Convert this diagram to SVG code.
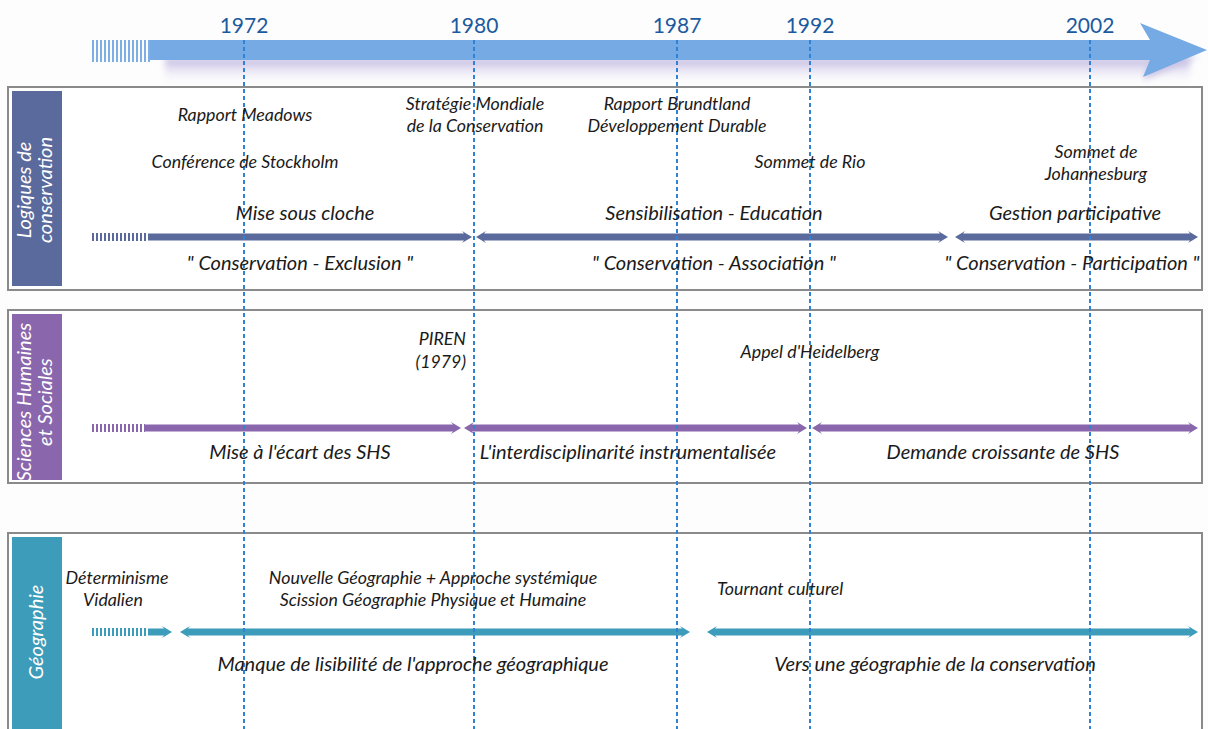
<svg xmlns="http://www.w3.org/2000/svg" width="1208" height="729" viewBox="0 0 1208 729">
<defs>
<style>
.yr{font-family:Lato,"Open Sans","Liberation Sans",sans-serif;font-size:21px;fill:#1b5a9f;text-anchor:middle}
.t{font-family:Lato,"Open Sans","Liberation Sans",sans-serif;font-style:italic;font-size:17.8px;fill:#1a1a1a;text-anchor:middle}
.big{font-size:20px}
.lbl{font-family:Lato,"Open Sans","Liberation Sans",sans-serif;font-style:italic;font-size:20px;fill:#ffffff;text-anchor:middle}
.panel{fill:#ffffff;stroke:#8a8a8a;stroke-width:2}
.dash{stroke:#2f82d4;stroke-width:2;stroke-dasharray:4 3;fill:none}
</style>
<pattern id="stripesBlue" width="4" height="10" patternUnits="userSpaceOnUse"><rect width="2" height="10" fill="#7eaee6"/></pattern>
<pattern id="stripesSlate" width="4" height="10" patternUnits="userSpaceOnUse"><rect width="2" height="10" fill="#5b6a9c"/></pattern>
<pattern id="stripesPurple" width="4" height="10" patternUnits="userSpaceOnUse"><rect width="2" height="10" fill="#8a67ad"/></pattern>
<pattern id="stripesTeal" width="4" height="10" patternUnits="userSpaceOnUse"><rect width="2" height="10" fill="#3d9cb9"/></pattern>
<linearGradient id="shadow" x1="0" y1="0" x2="0" y2="1">
<stop offset="0" stop-color="#bcb3de"/>
<stop offset="1" stop-color="#ffffff" stop-opacity="0"/>
</linearGradient>
<filter id="blur" x="-5%" y="-50%" width="110%" height="200%"><feGaussianBlur stdDeviation="3"/></filter>
</defs>
<rect width="1208" height="729" fill="#fdfdfd"/>

<g id="timeline">
<rect x="165" y="58" width="1025" height="28" fill="url(#shadow)" filter="url(#blur)"/>
<polygon points="1150,60 1143,80 1200,56" fill="#c9c3e4" filter="url(#blur)"/>
<rect x="92" y="40" width="58" height="22" fill="url(#stripesBlue)"/>
<polygon points="150,40 1150,40 1140,23 1207,50 1143,77 1150,60 150,60" fill="#76aae4"/>
<text class="yr" x="244" y="33">1972</text>
<text class="yr" x="474" y="33">1980</text>
<text class="yr" x="677" y="33">1987</text>
<text class="yr" x="810" y="33">1992</text>
<text class="yr" x="1090" y="33">2002</text>
</g>

<g id="panel-conservation">
<rect class="panel" x="8" y="87" width="1194" height="203"/>
<rect x="12" y="91" width="50" height="195" fill="#5b6a9c"/>
<text class="lbl" transform="translate(0,190) rotate(-90)" x="0" y="31">Logiques de</text>
<text class="lbl" transform="translate(0,190) rotate(-90)" x="0" y="52">conservation</text>
<rect x="92" y="233" width="56" height="8" fill="url(#stripesSlate)"/>
<polygon points="148,233.5 464,233.5 462,231 472,237 462,243 464,240.5 148,240.5" fill="#5b6a9c"/>
<polygon points="476,237 486,231 484,233.5 940,233.5 938,231 948,237 938,243 940,240.5 484,240.5 486,243" fill="#5b6a9c"/>
<polygon points="955,237 965,231 963,233.5 1190,233.5 1188,231 1198,237 1188,243 1190,240.5 963,240.5 965,243" fill="#5b6a9c"/>
</g>

<g id="panel-shs">
<rect class="panel" x="8" y="310" width="1194" height="173"/>
<rect x="12" y="314" width="50" height="166" fill="#8a67ad"/>
<text class="lbl" transform="translate(0,402) rotate(-90)" x="0" y="31">Sciences Humaines</text>
<text class="lbl" transform="translate(0,402) rotate(-90)" x="0" y="52">et Sociales</text>
<rect x="92" y="424" width="53" height="8" fill="url(#stripesPurple)"/>
<polygon points="145,424.5 453,424.5 451,422 461,428 451,434 453,431.5 145,431.5" fill="#8a67ad"/>
<polygon points="464,428 474,422 472,424.5 799,424.5 797,422 807,428 797,434 799,431.5 472,431.5 474,434" fill="#8a67ad"/>
<polygon points="812,428 822,422 820,424.5 1190,424.5 1188,422 1198,428 1188,434 1190,431.5 820,431.5 822,434" fill="#8a67ad"/>
</g>

<g id="panel-geo">
<rect class="panel" x="8" y="533" width="1194" height="210"/>
<rect x="12" y="537" width="50" height="192" fill="#3d9cb9"/>
<text class="lbl" transform="translate(0,632) rotate(-90)" x="0" y="43">Géographie</text>
<rect x="92" y="628" width="56" height="8" fill="url(#stripesTeal)"/>
<polygon points="148,628.5 164,628.5 162,626 172,632 162,638 164,635.5 148,635.5" fill="#3d9cb9"/>
<polygon points="180,632 190,626 188,628.5 682,628.5 680,626 690,632 680,638 682,635.5 188,635.5 190,638" fill="#3d9cb9"/>
<polygon points="707,632 717,626 715,628.5 1190,628.5 1188,626 1198,632 1188,638 1190,635.5 715,635.5 717,638" fill="#3d9cb9"/>
</g>

<g id="connectors">
<line class="dash" x1="244" y1="40" x2="244" y2="729"/>
<line class="dash" x1="474" y1="40" x2="474" y2="729"/>
<line class="dash" x1="677" y1="40" x2="677" y2="729"/>
<line class="dash" x1="810" y1="40" x2="810" y2="729"/>
<line class="dash" x1="1090" y1="40" x2="1090" y2="729"/>
</g>

<g id="labels-conservation">
<text class="t" x="245" y="121">Rapport Meadows</text>
<text class="t" x="245" y="168">Conférence de Stockholm</text>
<text class="t" x="475" y="110">Stratégie Mondiale</text>
<text class="t" x="475" y="132">de la Conservation</text>
<text class="t" x="677" y="110">Rapport Brundtland</text>
<text class="t" x="677" y="132">Développement Durable</text>
<text class="t" x="810" y="168">Sommet de Rio</text>
<text class="t" x="1096" y="158">Sommet de</text>
<text class="t" x="1096" y="180">Johannesburg</text>
<text class="t big" x="305" y="220">Mise sous cloche</text>
<text class="t big" x="714" y="220">Sensibilisation - Education</text>
<text class="t big" x="1075" y="220">Gestion participative</text>
<text class="t big" x="300" y="270">" Conservation - Exclusion "</text>
<text class="t big" x="714" y="270">" Conservation - Association "</text>
<text class="t big" x="1072" y="270">" Conservation - Participation "</text>
</g>

<g id="labels-shs">
<text class="t" x="466" y="345" style="text-anchor:end">PIREN</text>
<text class="t" x="466" y="368" style="text-anchor:end">(1979)</text>
<text class="t" x="810" y="358">Appel d'Heidelberg</text>
<text class="t big" x="300" y="459">Mise à l'écart des SHS</text>
<text class="t big" x="628" y="459">L'interdisciplinarité instrumentalisée</text>
<text class="t big" x="1003" y="459">Demande croissante de SHS</text>
</g>

<g id="labels-geo">
<text class="t" x="117" y="584">Déterminisme</text>
<text class="t" x="113" y="606">Vidalien</text>
<text class="t" x="433" y="584">Nouvelle Géographie + Approche systémique</text>
<text class="t" x="433" y="606">Scission Géographie Physique et Humaine</text>
<text class="t" x="717" y="595" style="text-anchor:start">Tournant culturel</text>
<text class="t big" x="413" y="671">Manque de lisibilité de l'approche géographique</text>
<text class="t big" x="935" y="671">Vers une géographie de la conservation</text>
</g>
</svg>
